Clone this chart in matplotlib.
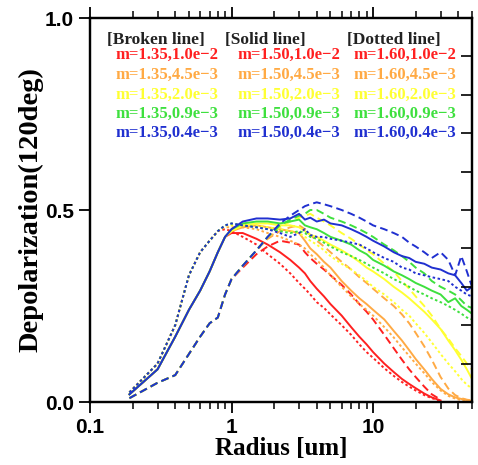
import numpy as np
import matplotlib
matplotlib.use("Agg")
import matplotlib.pyplot as plt

nan = np.nan

radius = [0.19, 0.3, 0.4, 0.5, 0.6, 0.7, 0.8, 0.9, 1.0, 1.2, 1.5, 1.8, 2.2, 2.6,
          3.0, 3.3, 3.6, 4.0, 4.5, 5, 6, 7, 8, 9, 10, 12, 14, 16, 18, 20, 23,
          26, 30, 34, 38, 42, 46, 50]

# m=1.35 (broken line)
red_135 = [0.01, 0.05, 0.07, 0.125, 0.17, 0.205, 0.22, 0.28, 0.32, 0.35, 0.385,
           0.405, 0.42, 0.415, 0.41, 0.39, 0.375, 0.36, 0.345, 0.33, 0.305, 0.28,
           0.255, 0.235, 0.215, 0.175, 0.14, 0.11, 0.085, 0.065, 0.04, 0.02,
           0.006, nan, nan, nan, nan, nan]
orange_135 = [0.01, 0.05, 0.07, 0.125, 0.17, 0.205, 0.22, 0.28, 0.32, 0.355, 0.395,
              0.425, 0.445, 0.455, 0.46, 0.45, 0.435, 0.42, 0.405, 0.39, 0.365,
              0.345, 0.325, 0.31, 0.295, 0.27, 0.25, 0.228, 0.205, 0.18, 0.145,
              0.11, 0.065, 0.035, 0.018, 0.01, 0.006, 0.004]
yellow_135 = [0.01, 0.05, 0.07, 0.125, 0.17, 0.205, 0.22, 0.28, 0.32, 0.355, 0.395,
              0.43, 0.455, 0.47, 0.48, 0.485, 0.49, 0.48, 0.47, 0.46, 0.44, 0.425,
              0.41, 0.395, 0.385, 0.36, 0.34, 0.315, 0.295, 0.275, 0.25, 0.225,
              0.19, 0.165, 0.14, 0.12, 0.1, 0.085]
green_135 = [0.01, 0.05, 0.07, 0.125, 0.17, 0.205, 0.22, 0.28, 0.32, 0.355, 0.395,
             0.43, 0.46, 0.475, 0.485, 0.49, 0.5, 0.5, 0.49, 0.48, 0.47, 0.46,
             0.45, 0.44, 0.43, 0.41, 0.395, 0.38, 0.365, 0.35, 0.335, 0.315, 0.3,
             0.29, 0.28, 0.265, 0.25, 0.245]
blue_135 = [0.01, 0.05, 0.07, 0.125, 0.17, 0.205, 0.22, 0.28, 0.32, 0.355, 0.395,
            0.43, 0.465, 0.485, 0.5, 0.51, 0.515, 0.52, 0.515, 0.51, 0.5, 0.49,
            0.48, 0.47, 0.46, 0.45, 0.44, 0.43, 0.415, 0.405, 0.39, 0.375, 0.39,
            0.37, 0.33, 0.38, 0.34, 0.3]

# m=1.50 (solid line)
red_150 = [0.02, 0.085, 0.17, 0.24, 0.29, 0.34, 0.39, 0.43, 0.44, 0.44, 0.425,
           0.41, 0.39, 0.37, 0.35, 0.335, 0.315, 0.295, 0.275, 0.255, 0.225,
           0.195, 0.17, 0.15, 0.13, 0.1, 0.078, 0.06, 0.047, 0.036, 0.022,
           0.012, 0.004, nan, nan, nan, nan, nan]
orange_150 = [0.02, 0.085, 0.17, 0.24, 0.29, 0.34, 0.39, 0.43, 0.445, 0.455, 0.46,
              0.455, 0.45, 0.445, 0.44, 0.42, 0.4, 0.385, 0.365, 0.35, 0.315,
              0.29, 0.27, 0.255, 0.24, 0.215, 0.185, 0.16, 0.135, 0.112, 0.085,
              0.06, 0.034, 0.02, 0.012, 0.008, 0.005, 0.003]
yellow_150 = [0.02, 0.085, 0.17, 0.24, 0.29, 0.34, 0.39, 0.43, 0.445, 0.46, 0.465,
              0.465, 0.46, 0.46, 0.455, 0.445, 0.435, 0.43, 0.42, 0.41, 0.395,
              0.38, 0.365, 0.35, 0.34, 0.32, 0.3, 0.285, 0.27, 0.255, 0.235,
              0.215, 0.19, 0.16, 0.135, 0.11, 0.085, 0.06]
green_150 = [0.02, 0.085, 0.17, 0.24, 0.29, 0.34, 0.39, 0.43, 0.45, 0.465, 0.47,
             0.47, 0.465, 0.47, 0.475, 0.46, 0.455, 0.45, 0.44, 0.43, 0.42, 0.41,
             0.395, 0.385, 0.37, 0.355, 0.34, 0.33, 0.32, 0.31, 0.3, 0.29, 0.28,
             0.26, 0.27, 0.25, 0.24, 0.23]
blue_150 = [0.02, 0.085, 0.17, 0.24, 0.29, 0.34, 0.39, 0.43, 0.45, 0.47, 0.478,
            0.478, 0.475, 0.478, 0.49, 0.475, 0.48, 0.47, 0.475, 0.465, 0.46,
            0.45, 0.44, 0.43, 0.42, 0.405, 0.39, 0.38, 0.375, 0.365, 0.36, 0.35,
            0.345, 0.335, 0.33, 0.31, 0.29, 0.3]

# m=1.60 (dotted line)
red_160 = [0.025, 0.1, 0.2, 0.33, 0.39, 0.42, 0.445, 0.45, 0.445, 0.43, 0.41,
           0.385, 0.36, 0.335, 0.31, 0.295, 0.28, 0.26, 0.245, 0.228, 0.2, 0.175,
           0.15, 0.13, 0.115, 0.088, 0.068, 0.052, 0.04, 0.03, 0.018, 0.01,
           0.003, nan, nan, nan, nan, nan]
orange_160 = [0.025, 0.1, 0.2, 0.33, 0.39, 0.42, 0.445, 0.455, 0.455, 0.455, 0.45,
              0.44, 0.43, 0.42, 0.41, 0.4, 0.385, 0.37, 0.35, 0.33, 0.3, 0.275,
              0.255, 0.24, 0.225, 0.195, 0.168, 0.142, 0.12, 0.1, 0.075, 0.052,
              0.03, 0.016, 0.009, 0.005, 0.003, 0.002]
yellow_160 = [0.025, 0.1, 0.2, 0.33, 0.39, 0.42, 0.445, 0.46, 0.46, 0.46, 0.46,
              0.455, 0.45, 0.445, 0.44, 0.43, 0.42, 0.41, 0.395, 0.38, 0.36,
              0.345, 0.33, 0.315, 0.3, 0.28, 0.26, 0.24, 0.225, 0.205, 0.18,
              0.155, 0.125, 0.1, 0.08, 0.06, 0.045, 0.035]
green_160 = [0.025, 0.1, 0.2, 0.33, 0.39, 0.42, 0.445, 0.46, 0.465, 0.46, 0.455,
             0.45, 0.445, 0.44, 0.445, 0.44, 0.43, 0.425, 0.415, 0.405, 0.39,
             0.38, 0.37, 0.36, 0.35, 0.335, 0.32, 0.31, 0.3, 0.29, 0.28, 0.27,
             0.26, 0.25, 0.24, 0.23, 0.22, 0.215]
blue_160 = [0.025, 0.1, 0.2, 0.33, 0.39, 0.42, 0.445, 0.46, 0.465, 0.46, 0.455,
            0.45, 0.44, 0.43, 0.44, 0.45, 0.435, 0.43, 0.43, 0.425, 0.42, 0.415,
            0.41, 0.4, 0.39, 0.375, 0.365, 0.35, 0.345, 0.335, 0.33, 0.325, 0.32,
            0.315, 0.3, 0.29, 0.28, 0.275]

colors = ["#ff2020", "#ffaa44", "#ffff33", "#3ee03e", "#2030d0"]
imag_labels = ["1.0e\u22122", "4.5e\u22123", "2.0e\u22123", "0.9e\u22123", "0.4e\u22123"]
m_labels = ["1.35", "1.50", "1.60"]
headers = ["[Broken line]", "[Solid line]", "[Dotted line]"]

series = {
    "1.35": [red_135, orange_135, yellow_135, green_135, blue_135],
    "1.50": [red_150, orange_150, yellow_150, green_150, blue_150],
    "1.60": [red_160, orange_160, yellow_160, green_160, blue_160],
}
styles = {"1.35": (0, (4.0, 2.2)), "1.50": "-", "1.60": (0, (1.3, 1.3))}

W, H = 478, 465
fig = plt.figure(figsize=(W / 100, H / 100), dpi=100)
ax = fig.add_axes([90 / W, 1 - 402 / H, 382 / W, 384 / H])

serif = "Liberation Serif"
sans = "Liberation Sans"

# draw colour by colour so that blue ends up on top
for ci, c in enumerate(colors):
    for m in m_labels:
        ax.plot(radius, series[m][ci], color=c, lw=1.4, ls=styles[m])

ax.set_xscale("log")
ax.set_xlim(0.1, 50)
ax.set_ylim(0, 1.0)
ax.set_xticks([0.1, 1, 10], ["0.1", "1", "10"])
ax.set_yticks([0.0, 0.5, 1.0], ["0.0", "0.5", "1.0"])
ax.tick_params(axis="x", which="both", top=True, direction="out")
ax.tick_params(axis="x", which="major", length=8, width=1.3)
ax.tick_params(axis="x", which="minor", length=5, width=1.1)
ax.tick_params(axis="y", which="major", length=8, width=1.3, direction="out")
for lab in ax.get_xticklabels() + ax.get_yticklabels():
    lab.set_fontfamily(sans)
    lab.set_fontweight("bold")
    lab.set_fontsize(15)
for s in ax.spines.values():
    s.set_linewidth(1.6)

ax2 = ax.twinx()
ax2.set_ylim(0, 1.0)
ax2.set_yticks(np.arange(0, 1.01, 0.1))
ax2.tick_params(axis="y", direction="in", length=8, width=1.2, labelright=False)
for s in ax2.spines.values():
    s.set_linewidth(1.6)

ax.set_xlabel("Radius [um]", fontfamily=serif, fontweight="bold", fontsize=18,
              labelpad=0)
ax.set_ylabel("Depolarization(120deg)", fontfamily=serif, fontweight="bold",
              fontsize=20.5, labelpad=1)

# legend block
hdr_x = [107, 225, 347]
ent_x = [115, 237, 353]
row_y = [55, 75, 95, 114, 133]
for j, h in enumerate(headers):
    fig.text(hdr_x[j] / W, 1 - 40 / H, h, fontfamily=serif, fontweight="bold",
             fontsize=12.5, va="center", ha="left", color="#222222")
for j, m in enumerate(m_labels):
    for i, c in enumerate(colors):
        fig.text(ent_x[j] / W, 1 - row_y[i] / H, f"m={m},{imag_labels[i]}",
                 fontfamily=serif, fontweight="bold", fontsize=12, color=c,
                 va="center", ha="left")

fig.savefig("out.png", dpi=100)
